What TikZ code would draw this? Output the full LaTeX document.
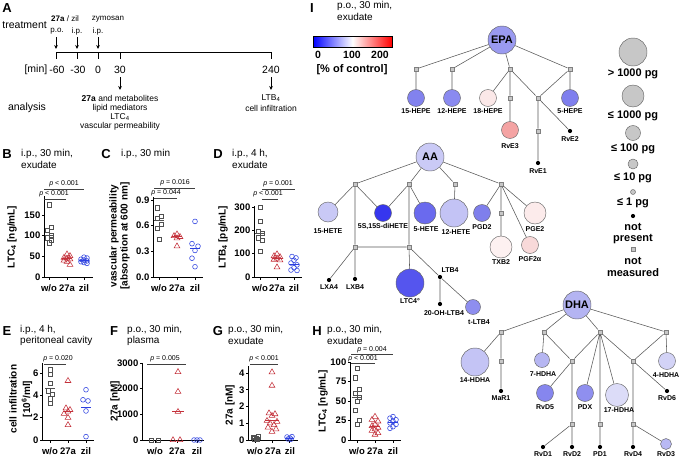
\documentclass[tikz,border=0pt]{standalone}
\usepackage{fontspec}
\setmainfont{Liberation Sans}
\usetikzlibrary{arrows.meta}
\newcommand{\fsz}[1]{\fontsize{#1}{#1}\selectfont}
\definecolor{cSq}{HTML}{505050}
\definecolor{cTr}{HTML}{C4303A}
\definecolor{cCi}{HTML}{2B3FE0}
\definecolor{cbB}{HTML}{0000FF}
\definecolor{cbR}{HTML}{FF0000}
\definecolor{cEPA}{HTML}{9A9AF0}
\definecolor{cHa}{HTML}{8282EE}
\definecolor{cHb}{HTML}{8A8AF0}
\definecolor{cHc}{HTML}{FBE8E8}
\definecolor{cHd}{HTML}{7F7FEE}
\definecolor{cRvEc}{HTML}{F4A3A3}
\definecolor{cAA}{HTML}{CACAF6}
\definecolor{cHETEa}{HTML}{C9C9F6}
\definecolor{cdiH}{HTML}{3636EE}
\definecolor{cHETEb}{HTML}{6A6AEE}
\definecolor{cHETEc}{HTML}{C3C3F5}
\definecolor{cPGD}{HTML}{7F7FEC}
\definecolor{cPGE}{HTML}{FCEBEB}
\definecolor{cTXB}{HTML}{FDF1F1}
\definecolor{cPGF}{HTML}{F8D9D9}
\definecolor{cLTC}{HTML}{5555EE}
\definecolor{ctLTB}{HTML}{8E8EEF}
\definecolor{cDHA}{HTML}{B4B4F2}
\definecolor{cDa}{HTML}{C4C4F5}
\definecolor{cDb}{HTML}{B6B6F2}
\definecolor{cRvDe}{HTML}{8686EE}
\definecolor{cPDX}{HTML}{8F8FEF}
\definecolor{cDc}{HTML}{DCDCF8}
\definecolor{cDd}{HTML}{D3D3F6}
\definecolor{cRvDc}{HTML}{B9B9F3}
\newcommand{\msq}[2]{\draw[cSq,mk] (#1,#2) ++(-2.2pt,-2.2pt) rectangle ++(4.4pt,4.4pt);}
\newcommand{\mtr}[2]{\draw[cTr,mk] (#1,#2) ++(0pt,3.3pt) -- ++(-2.9pt,-5pt) -- ++(5.8pt,0pt) -- cycle;}
\newcommand{\mci}[2]{\draw[cCi,mk] (#1,#2) circle[radius=2.4pt];}
\newcommand{\mmed}[4]{\draw[#1,line width=0.9pt] (#2,#4) -- (#3,#4);}
\newcommand{\mkaxis}[5]{%
 \draw[axl] (0,#2) -- (0,0) -- (#3,0);
 \foreach \tv/\tlab [count=\ti] in {#4} {\draw[axl] (0,\tv) -- ++(-2.5pt,0pt); \node[tkl] (#1tk\ti) at (0,\tv) {\tlab};}
 \foreach \gx in {#5} {\draw[axl] (\gx,0) -- ++(0pt,-2.5pt);}
}
\tikzset{
 lett/.style={font=\fsz{13}\bfseries, inner sep=0pt},
 ttl/.style={font=\fsz{10}, inner sep=0pt, anchor=west},
 tkl/.style={font=\fsz{9.5}\bfseries, inner sep=0pt, anchor=east, xshift=-3.5pt},
 xl/.style={font=\fsz{9.5}\bfseries, inner sep=0pt},
 yl/.style={font=\fsz{10}\bfseries, inner sep=0pt, rotate=90},
 pv/.style={font=\fsz{7}, inner sep=0pt},
 pl/.style={draw=black!75, line width=0.5pt},
 axl/.style={draw=black, line width=0.8pt},
 mk/.style={line width=0.55pt},
 tA/.style={font=\fsz{10.5}, inner sep=0pt},
 tAs/.style={font=\fsz{8}, inner sep=0pt},
 tAm/.style={font=\fsz{8.5}, inner sep=0pt},
 arr/.style={draw=black, line width=0.8pt, -{Stealth[length=4pt,width=3.6pt]}},
 tline/.style={draw=black, line width=0.8pt},
 jn/.style={rectangle, draw=black!50, fill=black!22, minimum size=4.6pt, inner sep=0pt, line width=0.4pt},
 dotn/.style={circle, fill=black, minimum size=4.2pt, inner sep=0pt},
 tc/.style={circle, draw=black!60, line width=0.45pt, minimum size=#1, inner sep=0pt},
 trl/.style={draw=black!65, line width=0.55pt},
 tlab/.style={font=\fsz{7}\bfseries, inner sep=0pt},
 leg/.style={font=\fsz{11}\bfseries, inner sep=0pt},
 lgc/.style={circle, draw=black!60, fill=black!22, line width=0.45pt, minimum size=#1, inner sep=0pt},
 cbl/.style={font=\fsz{10.5}\bfseries, inner sep=0pt}
}
\begin{document}
\begin{tikzpicture}[x=1pt,y=-1pt]
\fill[white] (0,0) rectangle (680,458);
\useasboundingbox (0,0) rectangle (680,458);

% ---------------- Panel A
\node[lett] (lA) at (7,8) {A};
\node[tA, anchor=east] (treat) at (47,25) {treatment};
\node[tAs] (t27a) at (65,19) {\textbf{27a} / zil};
\node[tAs] (tpo) at (57,31) {p.o.};
\node[tAs] (tip1) at (77,31) {i.p.};
\node[tAs] (tzym) at (108,19) {zymosan};
\node[tAs] (tip2) at (98,31) {i.p.};
\coordinate (ar1a) at (56,37); \coordinate (ar1b) at (56,49);
\coordinate (ar2a) at (77,37); \coordinate (ar2b) at (77,49);
\coordinate (ar3a) at (98,37); \coordinate (ar3b) at (98,49);
\draw[arr] (ar1a) -- (ar1b);
\draw[arr] (ar2a) -- (ar2b);
\draw[arr] (ar3a) -- (ar3b);
\coordinate (tl0) at (56,52); \coordinate (tl1) at (271,52);
\draw[tline] (tl0) -- (tl1);
\foreach \x in {56,77,98,120,271} {\draw[tline] (\x,52) -- (\x,59);}
\node[tA, anchor=east] (tmin) at (47.5,70) {[min]};
\node[tA] (tm60) at (57,70) {-60};
\node[tA] (tm30) at (78,70) {-30};
\node[tA] (tz0) at (98,70) {0};
\node[tA] (tp30) at (120,70) {30};
\node[tA] (tp240) at (271,70) {240};
\coordinate (ar4a) at (120,77); \coordinate (ar4b) at (120,90);
\coordinate (ar5a) at (271,77); \coordinate (ar5b) at (271,90);
\draw[arr] (ar4a) -- (ar4b);
\draw[arr] (ar5a) -- (ar5b);
\node[tA] (tanal) at (27,108) {analysis};
\node[tAm] (an1) at (120,98) {\textbf{27a} and metabolites};
\node[tAm] (an2) at (120,108) {lipid mediators};
\node[tAm] (an3) at (120,117) {LTC\textsubscript{4}};
\node[tAm] (an4) at (120,126) {vascular permeability};
\node[tAm] (an5) at (271,98) {LTB\textsubscript{4}};
\node[tAm] (an6) at (271,108) {cell infiltration};

% ---------------- Panel B
\node[lett] (lB) at (7,154) {B};
\node[ttl] (tB1) at (21,154) {i.p., 30 min,};
\node[ttl] (tB2) at (21,165) {exudate};
\node[yl] (yB) at (12,237) {LTC\textsubscript{4} [ng/mL]};
\begin{scope}[shift={(44pt,-277pt)},x=1pt,y=0.413pt]
\mkaxis{B}{195}{49}{0/0,50/50,100/100,150/150}{5,23,40}
\foreach \a/\b in {5/175,7/121,3/113,7/101,3/95,7/89,5/83} {\msq{\a}{\b}}
\mmed{cSq}{1}{10}{100}
\foreach \a/\b in {23/55,26/51,20/47,23/45,26/43,20/40,23/37,26/30} {\mtr{\a}{\b}}
\mmed{cTr}{18}{28}{44}
\foreach \a/\b in {40/48,43/46,37/43,40/41,43/39,37/37,40/35,43/33} {\mci{\a}{\b}}
\mmed{cCi}{35}{45}{41}
\end{scope}
\node[xl] (xB1) at (49,288) {w/o};
\node[xl] (xB2) at (67,288) {27a};
\node[xl] (xB3) at (84,288) {zil};
\draw[pl] (44,189) -- (84,189);
\node[pv] (pB1) at (64,184) {\textit{p} < 0.001};
\draw[pl] (44,199) -- (66,199);
\node[pv] (pB2) at (54,193.5) {\textit{p} < 0.001};

% ---------------- Panel C
\node[lett] (lC) at (106,154) {C};
\node[ttl] (tC1) at (121,154) {i.p., 30 min};
\node[yl] (yC1) at (114,236) {vascular permeability};
\node[yl] (yC2) at (125,236) {[absorption at 600 nm]};
\begin{scope}[shift={(153pt,-277pt)},x=1pt,y=85.5pt]
\mkaxis{C}{0.93}{50}{0/0.0,0.3/0.3,0.6/0.6,0.9/0.9}{6,24,42}
\foreach \a/\b in {4/0.81,8/0.71,4/0.69,8/0.62,4/0.57,6/0.44} {\msq{\a}{\b}}
\mmed{cSq}{1}{11}{0.66}
\foreach \a/\b in {24/0.50,21/0.48,27/0.47,24/0.455,24/0.36} {\mtr{\a}{\b}}
\mmed{cTr}{19}{29}{0.47}
\foreach \a/\b in {42/0.65,39/0.39,45/0.36,42/0.31,39/0.22,42/0.12} {\mci{\a}{\b}}
\mmed{cCi}{37}{47}{0.33}
\end{scope}
\node[xl] (xC1) at (159,288) {w/o};
\node[xl] (xC2) at (177,288) {27a};
\node[xl] (xC3) at (195,288) {zil};
\draw[pl] (154,188) -- (195,188);
\node[pv] (pC1) at (175,183) {\textit{p} = 0.016};
\draw[pl] (154,198) -- (177,198);
\node[pv] (pC2) at (166,192.5) {\textit{p} = 0.044};

% ---------------- Panel D
\node[lett] (lD) at (218,154) {D};
\node[ttl] (tD1) at (232,154) {i.p., 4 h,};
\node[ttl] (tD2) at (232,165) {exudate};
\node[yl] (yD) at (223,237) {LTB\textsubscript{4} [pg/mL]};
\begin{scope}[shift={(254pt,-277pt)},x=1pt,y=0.233pt]
\mkaxis{D}{305}{48}{0/0,100/100,200/200,300/300}{6,23,40}
\foreach \a/\b in {6/300,6/238,4/196,8/188,4/168,8/158,6/110} {\msq{\a}{\b}}
\mmed{cSq}{1}{11}{188}
\foreach \a/\b in {23/98,20/90,26/86,23/80,20/75,26/72,23/42} {\mtr{\a}{\b}}
\mmed{cTr}{18}{28}{80}
\foreach \a/\b in {38/88,42/82,40/72,37/60,43/52,40/40,37/30,43/28} {\mci{\a}{\b}}
\mmed{cCi}{35}{45}{56}
\end{scope}
\node[xl] (xD1) at (260,288) {w/o};
\node[xl] (xD2) at (277,288) {27a};
\node[xl] (xD3) at (294,288) {zil};
\draw[pl] (262,189) -- (295,189);
\node[pv] (pD1) at (278,183.5) {\textit{p} = 0.001};
\draw[pl] (262,199) -- (278,199);
\node[pv] (pD2) at (268,193.5) {\textit{p} < 0.001};

% ---------------- Panel E
\node[lett] (lE) at (7,331) {E};
\node[ttl] (tE1) at (20,330) {i.p., 4 h,};
\node[ttl] (tE2) at (20,341) {peritoneal cavity};
\node[yl] (yE1) at (13,399) {cell infiltration};
\node[yl] (yE2) at (27,399) {[10\textsuperscript{6}/ml]};
\begin{scope}[shift={(42pt,-440pt)},x=1pt,y=11.17pt]
\mkaxis{E}{6.9}{52}{0/0,2/2,4/4,6/6}{8,26,44}
\foreach \a/\b in {8/6.3,8/5.9,8/5.1,6/4.4,10/4.1,8/3.7,8/3.3} {\msq{\a}{\b}}
\mmed{cSq}{3}{13}{4.6}
\foreach \a/\b in {26/5.3,24/2.85,28/2.7,26/2.55,22/2.35,26/2.0,26/1.35} {\mtr{\a}{\b}}
\mmed{cTr}{21}{31}{2.6}
\foreach \a/\b in {44/4.5,41/3.6,46/3.5,44/2.6,44/0.3} {\mci{\a}{\b}}
\mmed{cCi}{39}{49}{2.9}
\end{scope}
\node[xl] (xE1) at (50,451) {w/o};
\node[xl] (xE2) at (68,451) {27a};
\node[xl] (xE3) at (86,451) {zil};
\draw[pl] (44,364) -- (66,364);
\node[pv] (pE1) at (58,358.5) {\textit{p} = 0.020};

% ---------------- Panel F
\node[lett] (lF) at (114,331) {F};
\node[ttl] (tF1) at (127,330) {p.o., 30 min,};
\node[ttl] (tF2) at (127,341) {plasma};
\node[yl] (yF) at (115,401) {27a [nM]};
\begin{scope}[shift={(142pt,-440pt)},x=1pt,y=0.0257pt]
\mkaxis{F}{3000}{62}{0/0,1000/1000,2000/2000,3000/3000}{13,35,55}
\foreach \a/\b in {9/0,16/0} {\msq{\a}{\b}}
\foreach \a/\b in {36/2650,36/1880,36/1100,31/0,38/0} {\mtr{\a}{\b}}
\mmed{cTr}{30}{42}{1100}
\foreach \a/\b in {52/0,55/0,58/0} {\mci{\a}{\b}}
\end{scope}
\node[xl] (xF1) at (155,451) {w/o};
\node[xl] (xF2) at (177,451) {27a};
\node[xl] (xF3) at (197,451) {zil};
\draw[pl] (147,364) -- (186,364);
\node[pv] (pF1) at (165,358.5) {\textit{p} = 0.005};

% ---------------- Panel G
\node[lett] (lG) at (218,331) {G};
\node[ttl] (tG1) at (228,330) {p.o., 30 min,};
\node[ttl] (tG2) at (228,341) {exudate};
\node[yl] (yG) at (230,405) {27a [nM]};
\begin{scope}[shift={(248pt,-440pt)},x=1pt,y=16.75pt]
\mkaxis{G}{4.4}{50}{0/0,1/1,2/2,3/3,4/4}{7,24,41}
\foreach \a/\b in {5/0.18,8/0.12,10/0.2,6/0.08,9/0.05} {\msq{\a}{\b}}
\mmed{cSq}{3}{12}{0.12}
\foreach \a/\b in {24/4.05,24/3.25,21/1.6,27/1.55,24/1.45,19/1.15,29/1.1,22/1.0,26/0.9,20/0.75,28/0.65,24/0.5} {\mtr{\a}{\b}}
\mmed{cTr}{17}{31}{1.15}
\foreach \a/\b in {39/0.18,42/0.12,44/0.2,40/0.06,43/0.05} {\mci{\a}{\b}}
\mmed{cCi}{37}{46}{0.12}
\end{scope}
\node[xl] (xG1) at (255,451) {w/o};
\node[xl] (xG2) at (273,451) {27a};
\node[xl] (xG3) at (290,451) {zil};
\draw[pl] (250,364) -- (278,364);
\node[pv] (pG1) at (264,358.5) {\textit{p} < 0.001};

% ---------------- Panel H
\node[lett] (lH) at (317,331) {H};
\node[ttl] (tH1) at (327,330) {p.o., 30 min,};
\node[ttl] (tH2) at (327,341) {exudate};
\node[yl] (yH) at (323,401) {LTC\textsubscript{4} [ng/mL]};
\begin{scope}[shift={(350pt,-440pt)},x=1pt,y=0.78pt]
\mkaxis{H}{100}{51}{0/0,25/25,50/50,75/75,100/100}{7,25,43}
\foreach \a/\b in {7/92,5/80,9/65,5/60,9/55,7/50,5/38,9/25,7/20} {\msq{\a}{\b}}
\mmed{cSq}{2}{12}{55}
\foreach \a/\b in {25/30,22/26,28/24,25/20,22/18,28/16,25/14,22/12,28/9,25/7} {\mtr{\a}{\b}}
\mmed{cTr}{20}{30}{17}
\foreach \a/\b in {43/30,40/28,46/26,43/24,40/22,46/20,43/17,40/15} {\mci{\a}{\b}}
\mmed{cCi}{38}{48}{23}
\end{scope}
\node[xl] (xH1) at (357,451) {w/o};
\node[xl] (xH2) at (375,451) {27a};
\node[xl] (xH3) at (393,451) {zil};
\draw[pl] (351,354) -- (393,354);
\node[pv] (pH1) at (372,349.5) {\textit{p} = 0.004};
\draw[pl] (351,363) -- (375,363);
\node[pv] (pH2) at (363,358.5) {\textit{p} < 0.001};

% ---------------- Panel I header + colour bar
\node[lett] (lI) at (312,8) {I};
\node[ttl] (tI1) at (337,6) {p.o., 30 min,};
\node[ttl] (tI2) at (337,17) {exudate};
\shade[left color=cbB, right color=cbR, middle color=white] (313,36) rectangle (392,47);
\draw[line width=0.6pt] (313,36) rectangle (392,47);
\node[cbl] (cb0) at (318,54.5) {0};
\node[cbl] (cb1) at (352,54.5) {100};
\node[cbl] (cb2) at (380,54.5) {200};
\node[leg] (cbt) at (352,70) {[\% of control]};

% ---------------- Legend
\node[lgc=28pt] (L1) at (633,52) {};
\node[leg] (L1t) at (633,74) {> 1000 pg};
\node[lgc=22pt] (L2) at (633,96) {};
\node[leg] (L2t) at (633,116) {≤ 1000 pg};
\node[lgc=15pt] (L3) at (633,133) {};
\node[leg] (L3t) at (633,149) {≤ 100 pg};
\node[lgc=10pt] (L4) at (633,164) {};
\node[leg] (L4t) at (633,178) {≤ 10 pg};
\node[lgc=5pt] (L5) at (633,192) {};
\node[leg] (L5t) at (633,203) {≤ 1 pg};
\node[dotn] (L6) at (633,216) {};
\node[leg] (L6t) at (633,227) {not};
\node[leg] (L6u) at (633,239) {present};
\node[jn] (L7) at (633,249) {};
\node[leg] (L7t) at (633,261) {not};
\node[leg] (L7u) at (633,273) {measured};

% ---------------- EPA tree
\node[tc=28pt, fill=cEPA, font=\fsz{11}\bfseries] (EPA) at (502,40) {EPA};
\node[jn] (e1) at (416,69) {};
\node[jn] (e2) at (452,69) {};
\node[jn] (e3) at (510,69) {};
\node[jn] (e4) at (570,69) {};
\node[tc=17pt, fill=cHa] (HEPEa) at (416,98) {};
\node[tc=17pt, fill=cHb] (HEPEb) at (452,98) {};
\node[tc=17pt, fill=cHc] (HEPEc) at (488,98) {};
\node[jn] (e5) at (510,98) {};
\node[jn] (e6) at (538,98) {};
\node[tc=17pt, fill=cHd] (HEPEd) at (570,98) {};
\node[tc=17pt, fill=cRvEc] (RvEc) at (510,130) {};
\node[jn] (e7) at (538,131) {};
\node[dotn] (RvEb) at (570,131) {};
\node[dotn] (RvEa) at (538,163) {};
\draw[trl] (EPA) -- (e1) (EPA) -- (e2) (EPA) -- (e3) (EPA) -- (e4)
 (e1) -- (HEPEa) (e2) -- (HEPEb) (e3) -- (HEPEc) (e3) -- (e5) (e3) -- (e6)
 (e4) -- (e6) (e4) -- (HEPEd) (e5) -- (RvEc) (e6) -- (e7) (e6) -- (RvEb) (e7) -- (RvEa);
\node[tlab] (lHEPEa) at (416,111) {15-HEPE};
\node[tlab] (lHEPEb) at (452,111) {12-HEPE};
\node[tlab] (lHEPEc) at (488,111) {18-HEPE};
\node[tlab] (lHEPEd) at (570,111) {5-HEPE};
\node[tlab] (lRvEc) at (510,146) {RvE3};
\node[tlab] (lRvEb) at (570,139.5) {RvE2};
\node[tlab] (lRvEa) at (538,171) {RvE1};

% ---------------- AA tree
\node[tc=28pt, fill=cAA, font=\fsz{11}\bfseries] (AA) at (430,157) {AA};
\node[jn] (a1) at (355,184) {};
\node[jn] (a2) at (409,184) {};
\node[jn] (a3) at (455,184) {};
\node[jn] (a4) at (501,184) {};
\node[tc=20pt, fill=cHETEa] (HETEa) at (328,212) {};
\node[tc=17pt, fill=cdiH] (diH) at (383,213) {};
\node[tc=22pt, fill=cHETEb] (HETEb) at (425,213) {};
\node[tc=28pt, fill=cHETEc] (HETEc) at (454,213) {};
\node[tc=17pt, fill=cPGD] (PGD) at (482,213) {};
\node[jn] (a5) at (501,213) {};
\node[tc=22pt, fill=cPGE] (PGE) at (535,213) {};
\node[tc=22pt, fill=cTXB] (TXB) at (501,247) {};
\node[tc=17pt, fill=cPGF] (PGF) at (530,245) {};
\node[jn] (a6) at (355,247) {};
\node[jn] (a7) at (409,247) {};
\node[dotn] (LXA) at (329,280) {};
\node[dotn] (LXB) at (355,279) {};
\node[tc=28pt, fill=cLTC] (LTC) at (410,283) {};
\node[dotn] (LTB) at (440,277) {};
\node[dotn] (OHLTB) at (440,304) {};
\node[tc=15pt, fill=ctLTB] (tLTB) at (473,307) {};
\draw[trl] (AA) -- (a1) (AA) -- (a2) (AA) -- (a3) (AA) -- (a4)
 (a1) -- (HETEa) (a1) -- (diH) (a1) -- (a6) (a2) -- (diH) (a2) -- (HETEb) (a2) -- (a7)
 (a3) -- (HETEc) (a4) -- (PGD) (a4) -- (a5) (a4) -- (PGF) (a4) -- (PGE) (a5) -- (TXB)
 (a6) -- (a7) (a6) -- (LXA) (a6) -- (LXB) (a7) -- (LTC) (a7) -- (LTB)
 (LTB) -- (OHLTB) (LTB) -- (tLTB);
\node[tlab] (lHETEa) at (328,231) {15-HETE};
\node[tlab] (ldiH) at (383,227) {5S,15S-diHETE};
\node[tlab] (lHETEb) at (426,229) {5-HETE};
\node[tlab] (lHETEc) at (456,232) {12-HETE};
\node[tlab] (lPGD) at (482,227) {PGD2};
\node[tlab] (lPGE) at (535,229) {PGE2};
\node[tlab] (lTXB) at (501,262) {TXB2};
\node[tlab] (lPGF) at (530,259) {PGF2α};
\node[tlab] (lLXA) at (329,287.5) {LXA4};
\node[tlab] (lLXB) at (355,287.5) {LXB4};
\node[tlab] (lLTC) at (410,301) {LTC4°};
\node[tlab] (lLTB) at (450,270) {LTB4};
\node[tlab] (lOHLTB) at (444,313) {20-OH-LTB4};
\node[tlab] (ltLTB) at (479,322) {t-LTB4};

% ---------------- DHA tree
\node[tc=28pt, fill=cDHA, font=\fsz{11}\bfseries] (DHA) at (577,305) {DHA};
\node[jn] (d1) at (501,332) {};
\node[jn] (d2) at (544,332) {};
\node[jn] (d3) at (600,332) {};
\node[jn] (d4) at (666,332) {};
\node[tc=28pt, fill=cDa] (HDa) at (475,362) {};
\node[jn] (d5) at (501,361) {};
\node[dotn] (MaR) at (501,391) {};
\node[tc=15pt, fill=cDb] (HDb) at (542,360) {};
\node[jn] (d6) at (572,361) {};
\node[tc=17pt, fill=cRvDe] (RvDe) at (545,393) {};
\node[jn] (d7) at (572,424) {};
\node[dotn] (RvDa) at (543,447) {};
\node[dotn] (RvDb) at (572,447) {};
\node[tc=17pt, fill=cPDX] (PDX) at (585,393) {};
\node[jn] (d8) at (600,424) {};
\node[dotn] (PDa) at (600,447) {};
\node[tc=23pt, fill=cDc] (HDc) at (617,395) {};
\node[jn] (d9) at (633,361) {};
\node[tc=17pt, fill=cDd] (HDd) at (667,361) {};
\node[dotn] (RvDf) at (667,391) {};
\node[jn] (d10) at (633,424) {};
\node[dotn] (RvDd) at (633,447) {};
\node[tc=11pt, fill=cRvDc] (RvDc) at (666,444) {};
\draw[trl] (DHA) -- (d1) (DHA) -- (d2) (DHA) -- (d3) (DHA) -- (d4)
 (d1) -- (HDa) (d1) -- (d5) (d5) -- (MaR) (d2) -- (HDb) (d2) -- (d6) (d3) -- (d6)
 (d3) -- (PDX) (d3) -- (d8) (d3) -- (HDc) (d3) -- (d9) (d4) -- (d9) (d4) -- (HDd)
 (d6) -- (RvDe) (d6) -- (d7) (d7) -- (RvDa) (d7) -- (RvDb) (d8) -- (PDa)
 (d9) -- (RvDf) (d9) -- (d10) (d10) -- (RvDd) (d10) -- (RvDc);
\node[tlab] (lHDa) at (475,380) {14-HDHA};
\node[tlab] (lMaR) at (501,398.5) {MaR1};
\node[tlab] (lHDb) at (543,374) {7-HDHA};
\node[tlab] (lRvDe) at (545,407) {RvD5};
\node[tlab] (lPDX) at (585,407) {PDX};
\node[tlab] (lHDc) at (619,410) {17-HDHA};
\node[tlab] (lHDd) at (666,375) {4-HDHA};
\node[tlab] (lRvDf) at (667,398.5) {RvD6};
\node[tlab] (lRvDa) at (543,454) {RvD1};
\node[tlab] (lRvDb) at (572,454) {RvD2};
\node[tlab] (lPDa) at (600,454) {PD1};
\node[tlab] (lRvDd) at (633,454) {RvD4};
\node[tlab] (lRvDc) at (666,454) {RvD3};
\end{tikzpicture}
\end{document}
